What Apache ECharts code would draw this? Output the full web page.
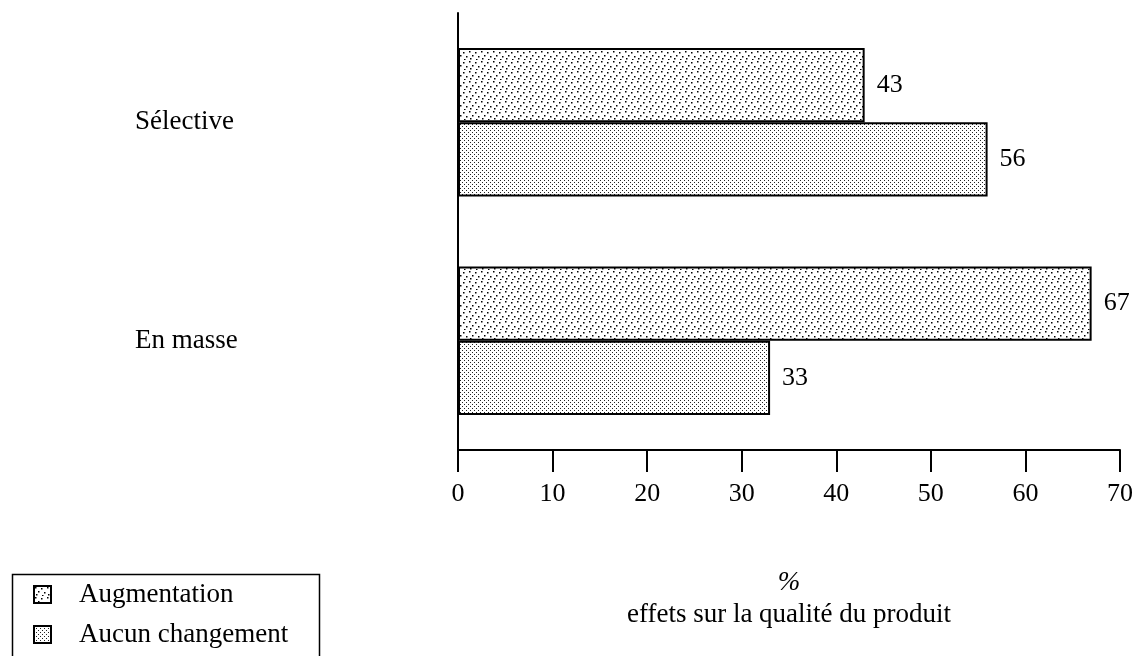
<!DOCTYPE html>
<html>
<head>
<meta charset="utf-8">
<script src="https://cdn.jsdelivr.net/npm/echarts@6/dist/echarts.min.js"></script>
<style>
  html, body { margin: 0; padding: 0; background: #fff; }
  #main { width: 1135px; height: 656px; }
</style>
</head>
<body>
<div id="main"></div>
<script>
// donnees
var categories = ['Sélective', 'En masse'];
var augmentation = [43, 67];
var aucunChangement = [56, 33];
var xTicks = [0, 10, 20, 30, 40, 50, 60, 70];

var serif = '"Liberation Serif", "DejaVu Serif", serif';

// motif points clairsemés
function sparseDots() {
  var c = document.createElement('canvas');
  c.width = 12; c.height = 10;
  var ctx = c.getContext('2d');
  ctx.fillStyle = '#fff';
  ctx.fillRect(0, 0, 12, 10);
  ctx.fillStyle = '#000';
  var pts = [[1, 1], [7, 2], [4, 5], [10, 6], [2, 8], [8, 9]];
  pts.forEach(function (p) { ctx.fillRect(p[0], p[1], 1.5, 1.5); });
  return c;
}

// motif grille serrée
function denseDots() {
  var c = document.createElement('canvas');
  c.width = 4; c.height = 4;
  var ctx = c.getContext('2d');
  ctx.fillStyle = '#fff';
  ctx.fillRect(0, 0, 4, 4);
  ctx.fillStyle = '#222';
  ctx.fillRect(0, 0, 1, 1);
  ctx.fillRect(2, 2, 1, 1);
  return c;
}

var myChart = echarts.init(document.getElementById('main'));

var labelStyle = {
  show: true,
  position: 'right',
  distance: 12,
  color: '#000',
  fontSize: 26,
  fontFamily: serif
};

var option = {
  animation: false,
  backgroundColor: '#fff',
  grid: {
    left: 458,
    right: 15,
    top: 13,
    bottom: 206,
    outerBoundsMode: 'none'
  },
  legend: {
    orient: 'vertical',
    left: 28,
    top: 576,
    icon: 'rect',
    itemWidth: 17,
    itemHeight: 17,
    itemGap: 13,
    textStyle: { fontSize: 27, fontFamily: serif, color: '#000', padding: [0, 0, 0, 23] },
    data: ['Augmentation', 'Aucun changement']
  },
  graphic: [{
    type: 'rect',
    left: 10,
    top: 572,
    shape: { width: 307, height: 100 },
    style: { fill: 'none', stroke: '#000', lineWidth: 1.5 }
  }],
  xAxis: {
    type: 'value',
    min: 0,
    max: 70,
    interval: 10,
    splitLine: { show: false },
    axisLine: { show: true, lineStyle: { color: '#000', width: 2 } },
    axisTick: { show: true, length: 22, lineStyle: { color: '#000', width: 2 } },
    axisLabel: {
      margin: 31,
      color: '#000',
      fontSize: 26,
      fontFamily: serif,
      formatter: function (v) { return xTicks.indexOf(v) >= 0 ? String(v) : ''; }
    },
    name: '{p|%}\neffets sur la qualité du produit',
    nameLocation: 'middle',
    nameGap: 117,
    nameTextStyle: {
      color: '#000',
      fontSize: 27,
      fontFamily: serif,
      lineHeight: 32,
      rich: { p: { fontStyle: 'italic', fontSize: 27, fontFamily: serif, color: '#000', lineHeight: 32 } }
    }
  },
  yAxis: {
    type: 'category',
    inverse: true,
    data: categories,
    axisLine: { show: true, lineStyle: { color: '#000', width: 2 } },
    axisTick: { show: false },
    axisLabel: {
      align: 'left',
      margin: 323,
      color: '#000',
      fontSize: 27,
      fontFamily: serif
    }
  },
  series: [
    {
      name: 'Augmentation',
      type: 'bar',
      data: augmentation,
      barGap: '0%',
      barCategoryGap: '32%',
      itemStyle: {
        color: { image: sparseDots(), repeat: 'repeat' },
        borderColor: '#000',
        borderWidth: 2
      },
      label: labelStyle
    },
    {
      name: 'Aucun changement',
      type: 'bar',
      data: aucunChangement,
      barGap: '0%',
      barCategoryGap: '32%',
      itemStyle: {
        color: { image: denseDots(), repeat: 'repeat' },
        borderColor: '#000',
        borderWidth: 2
      },
      label: labelStyle
    }
  ]
};

myChart.setOption(option);
</script>
</body>
</html>
